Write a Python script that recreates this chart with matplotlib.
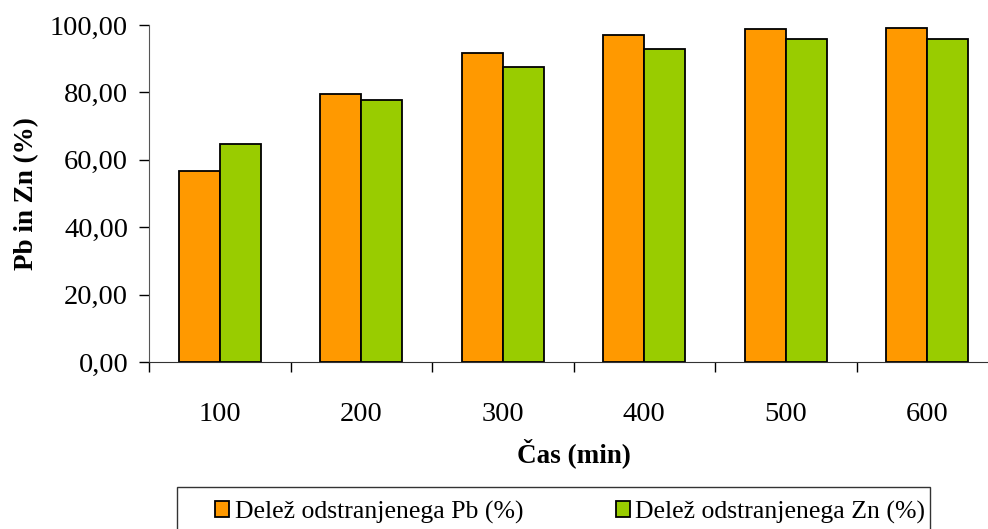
import matplotlib

matplotlib.use("Agg")
import matplotlib.patches as mpatches
import matplotlib.pyplot as plt
import numpy as np
from matplotlib.ticker import FixedLocator, FuncFormatter

# Removal fraction of Pb and Zn over time
TIMES = ["100", "200", "300", "400", "500", "600"]
PB_REMOVED = [56.7, 79.5, 91.8, 97.0, 98.7, 99.2]
ZN_REMOVED = [64.7, 77.7, 87.6, 92.9, 95.7, 95.7]
Y_TICKS = [0, 20, 40, 60, 80, 100]

PB_COLOR = "#ff9900"
ZN_COLOR = "#99cc00"
BAR_W = 0.29

plt.rcParams["font.family"] = ["Liberation Serif", "DejaVu Serif"]

fig = plt.figure(figsize=(9.88, 5.29), dpi=100)
ax = fig.add_axes([149 / 988, 1 - 362 / 529, (998 - 149) / 988, (362 - 25) / 529])

x = np.arange(len(TIMES))
ax.bar(x - BAR_W / 2, PB_REMOVED, BAR_W, color=PB_COLOR, edgecolor="black",
       linewidth=1.3, label="Delež odstranjenega Pb (%)")
ax.bar(x + BAR_W / 2, ZN_REMOVED, BAR_W, color=ZN_COLOR, edgecolor="black",
       linewidth=1.3, label="Delež odstranjenega Zn (%)")

ax.set_xlim(-0.5, len(TIMES) - 0.5)
ax.set_ylim(0, 100)
ax.set_yticks(Y_TICKS)
ax.yaxis.set_major_formatter(FuncFormatter(lambda v, _: f"{v:.2f}".replace(".", ",")))
ax.set_xticks(x)
ax.set_xticklabels(TIMES)
ax.xaxis.set_minor_locator(FixedLocator(np.arange(-0.5, len(TIMES), 1.0)))

ax.tick_params(axis="y", direction="out", length=7, width=1, labelsize=20.5, pad=8)
ax.tick_params(axis="x", which="major", length=0, labelsize=20.5, pad=29)
ax.tick_params(axis="x", which="minor", direction="out", length=7, width=1)

for side in ("top", "right"):
    ax.spines[side].set_visible(False)
ax.spines["left"].set_color("#555555")
ax.spines["bottom"].set_color("#333333")

ax.set_ylabel("Pb in Zn (%)", fontsize=19.5, fontweight="bold", labelpad=8)
ax.set_xlabel("Čas (min)", fontsize=19.5, fontweight="bold", labelpad=8)

# legend frame runs off the bottom edge in the original, so draw it by hand
fig.patches.append(mpatches.Rectangle(
    (177 / 988, -0.05), (930 - 177) / 988, 0.05 + 1 - 487 / 529,
    transform=fig.transFigure, facecolor="white", edgecolor="#333333",
    linewidth=1, zorder=1))

leg = fig.legend(loc="center", bbox_to_anchor=(570 / 988, 1 - 512 / 529),
                 ncol=2, fontsize=18.5, frameon=False,
                 handlelength=0.55, handleheight=0.55, handletextpad=0.2,
                 borderaxespad=0, borderpad=0, columnspacing=3.6)
leg.set_zorder(2)

fig.savefig("out.png", dpi=100)
